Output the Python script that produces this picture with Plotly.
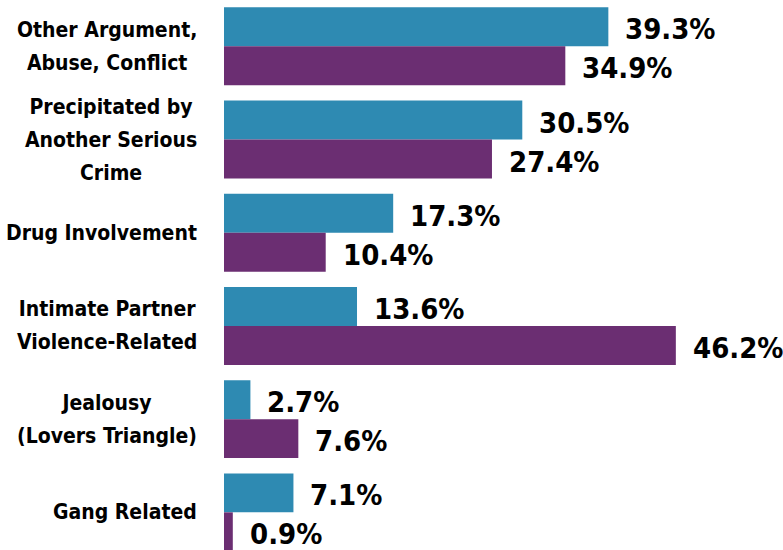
import plotly.graph_objects as go

categories = [
    "Other Argument,<br>Abuse, Conflict",
    "Precipitated by<br>Another Serious<br>Crime",
    "Drug Involvement",
    "Intimate Partner<br>Violence-Related",
    "Jealousy<br>(Lovers Triangle)",
    "Gang Related",
]
series_a = [39.3, 30.5, 17.3, 13.6, 2.7, 7.1]
series_b = [34.9, 27.4, 10.4, 46.2, 7.6, 0.9]

BLUE = "#2E8AB2"
PURPLE = "#6B2E72"
FONT = "DejaVu Sans Condensed, Liberation Sans Narrow, sans-serif"

fig = go.Figure()
fig.add_trace(go.Bar(y=categories, x=series_a, orientation="h",
                     marker=dict(color=BLUE, line=dict(width=0)), name="A",
                     hoverinfo="skip"))
fig.add_trace(go.Bar(y=categories, x=series_b, orientation="h",
                     marker=dict(color=PURPLE, line=dict(width=0)), name="B",
                     hoverinfo="skip"))

ann = []
for c, a, b in zip(categories, series_a, series_b):
    ann.append(dict(x=a, y=c, xref="x", yref="y", text=f"{a:.1f}%", showarrow=False,
                    xanchor="left", yanchor="middle", xshift=15, yshift=17,
                    font=dict(family=FONT, size=29, color="black", weight="bold")))
    ann.append(dict(x=b, y=c, xref="x", yref="y", text=f"{b:.1f}%", showarrow=False,
                    xanchor="left", yanchor="middle", xshift=15, yshift=-22,
                    font=dict(family=FONT, size=29, color="black", weight="bold")))
    label = "<br>".join(f"<span style='font-size:21px'>{line}</span>" for line in c.split("<br>"))
    ann.append(dict(x=0, y=c, xref="paper", yref="y", text=f"<b>{label}</b>", showarrow=False,
                    xanchor="right", yanchor="middle", xshift=-25, align="center",
                    font=dict(family=FONT, size=25.5, color="black")))

fig.update_layout(
    width=783, height=550,
    margin=dict(l=224, r=70, t=0, b=0, autoexpand=False),
    barmode="group", bargap=0.164, bargroupgap=0,
    showlegend=False,
    hovermode=False,
    plot_bgcolor="white", paper_bgcolor="white",
    xaxis=dict(range=[0, 50], showticklabels=False, showgrid=False, zeroline=False,
               showline=False, fixedrange=True),
    yaxis=dict(categoryorder="array", categoryarray=categories, range=[5.404, -0.497],
               showticklabels=False, showgrid=False, zeroline=False, showline=False,
               fixedrange=True),
    annotations=ann,
)

fig.write_html("out.html", config={"displayModeBar": False, "staticPlot": True},
               post_script="document.body.style.margin='0';document.body.style.overflow='hidden';")
